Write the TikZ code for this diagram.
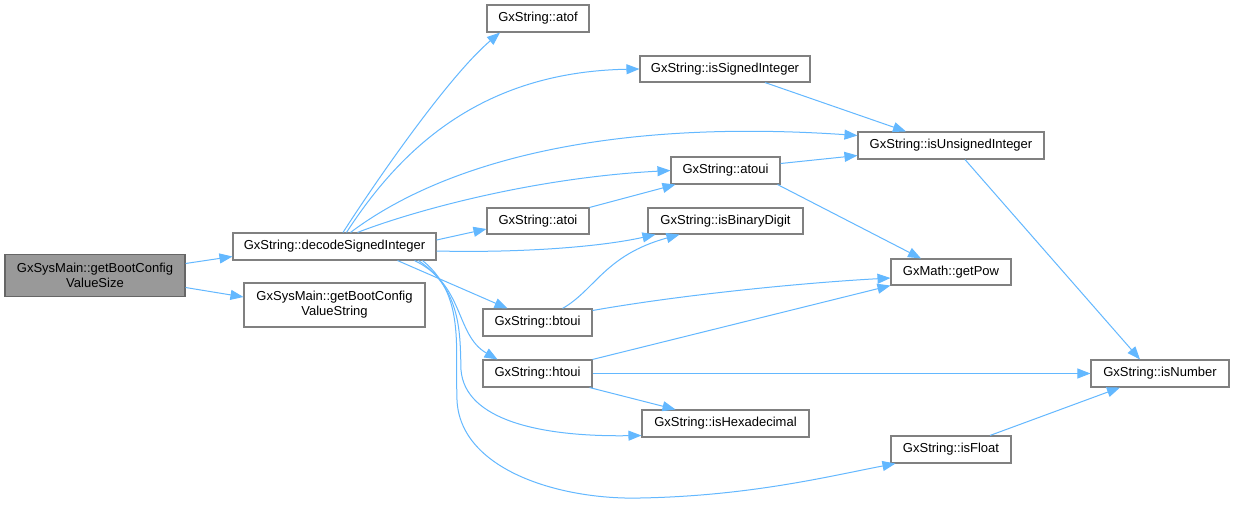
\documentclass[tikz,border=0pt]{standalone}
\usepackage{fontspec}
\setmainfont{Liberation Sans}
\usetikzlibrary{arrows.meta,calc}
\definecolor{boxgray}{HTML}{808080}
\definecolor{maingray}{HTML}{999999}
\definecolor{edgeblue}{HTML}{63B8FF}
\begin{document}
\begin{tikzpicture}[x=1pt,y=-1pt,
  box/.style={draw=boxgray, fill=white, line width=1.1pt, minimum height=27pt, inner sep=0pt,
    font=\fontsize{13}{15}\selectfont, align=center},
  link/.style={draw=edgeblue, line width=1pt, -{Triangle[length=13pt,width=10pt]}}]
\useasboundingbox[fill=white] (0,0) rectangle (1234,506);
% nodes
\node[box, fill=maingray, draw=black!60, minimum width=180pt, minimum height=42pt] (main) at (95,275.5) {GxSysMain::getBootConfig\\ValueSize};
\node[box, minimum width=203pt] (decode) at (334.5,246.5) {GxString::decodeSignedInteger};
\node[box, minimum width=181pt, minimum height=44pt] (gbcvs) at (334.5,305) {GxSysMain::getBootConfig\\ValueString};
\node[box, minimum width=102pt] (atof) at (538,18.5) {GxString::atof};
\node[box, minimum width=170pt, minimum height=26pt] (issigned) at (725,69) {GxString::isSignedInteger};
\node[box, minimum width=109pt] (atoui) at (725.5,170.5) {GxString::atoui};
\node[box, minimum width=186pt] (isunsigned) at (951,145.5) {GxString::isUnsignedInteger};
\node[box, minimum width=120pt, minimum height=26pt] (getpow) at (951,272) {GxMath::getPow};
\node[box, minimum width=102pt, minimum height=26pt] (atoi) at (538,221) {GxString::atoi};
\node[box, minimum width=155pt, minimum height=26pt] (isbinary) at (725.5,221) {GxString::isBinaryDigit};
\node[box, minimum width=109pt] (btoui) at (537.5,322.5) {GxString::btoui};
\node[box, minimum width=109pt] (htoui) at (537.5,373.5) {GxString::htoui};
\node[box, minimum width=167pt] (ishex) at (725.5,423.5) {GxString::isHexadecimal};
\node[box, minimum width=138pt] (isnumber) at (1160,373.5) {GxString::isNumber};
\node[box, minimum width=120pt] (isfloat) at (951,449.5) {GxString::isFloat};
% edges
\draw[link] ($(main.east)+(0,-12)$) -- ($(decode.west)+(0,10)$);
\draw[link] ($(main.east)+(0,12)$) -- ($(gbcvs.west)+(0,-8)$);
\draw[link] ($(decode.north)+(8.5,0)$) .. controls (380,175) and (450,75) .. ($(atof.south)+(-38,0)$);
\draw[link] ($(decode.north)+(12,0)$) .. controls (400,150) and (480,72) .. (issigned.west);
\draw[link] ($(decode.north)+(16,0)$) .. controls (440,165) and (600,118) .. ($(isunsigned.west)+(0,-10)$);
\draw[link] ($(decode.north)+(23,0)$) .. controls (410,212) and (530,178) .. (atoui.west);
\draw[link] ($(decode.east)+(0,-6.5)$) -- ($(atoi.west)+(0,8)$);
\draw[link] ($(decode.east)+(0,4.5)$) .. controls (520,253) and (600,247) .. ($(isbinary.south west)+(8,0)$);
\draw[link] ($(decode.south)+(63,0)$) -- ($(btoui.north)+(-30,0)$);
\draw[link] ($(decode.south)+(80,0)$) .. controls (465,285) and (455,335) .. ($(htoui.north)+(-40,0)$);
\draw[link] ($(decode.south)+(84,0)$) .. controls (462,290) and (460,335) .. (461,370) .. controls (465,420) and (540,437) .. ($(ishex.west)+(0,12)$);
\draw[link] ($(decode.south)+(88,0)$) .. controls (465,295) and (455,345) .. (457,400) .. controls (460,470) and (560,500) .. (640,498) .. controls (750,496) and (830,476) .. ($(isfloat.south west)+(5,0)$);
\draw[link] ($(issigned.south)+(40,0)$) -- ($(isunsigned.north)+(-45,0)$);
\draw[link] ($(atoui.east)+(0,-7)$) -- ($(isunsigned.west)+(0,10)$);
\draw[link] ($(atoui.south east)+(-3,0)$) -- ($(getpow.north)+(-30,0)$);
\draw[link] (atoi.north east) -- ($(atoui.south west)+(5,0)$);
\draw[link] ($(btoui.north)+(25,0)$) .. controls (595,290) and (605,255) .. ($(isbinary.south west)+(32,0)$);
\draw[link] ($(btoui.east)+(0,-12)$) .. controls (680,295) and (800,283) .. ($(getpow.west)+(0,6)$);
\draw[link] (htoui.north east) -- (getpow.south west);
\draw[link] (htoui.east) -- (isnumber.west);
\draw[link] ($(htoui.south east)+(-3,0)$) -- ($(ishex.north)+(-50,0)$);
\draw[link] ($(isunsigned.south)+(14,0)$) -- ($(isnumber.north)+(-20,0)$);
\draw[link] ($(isfloat.north)+(39,0)$) -- ($(isnumber.south)+(-40,0)$);
\end{tikzpicture}
\end{document}
